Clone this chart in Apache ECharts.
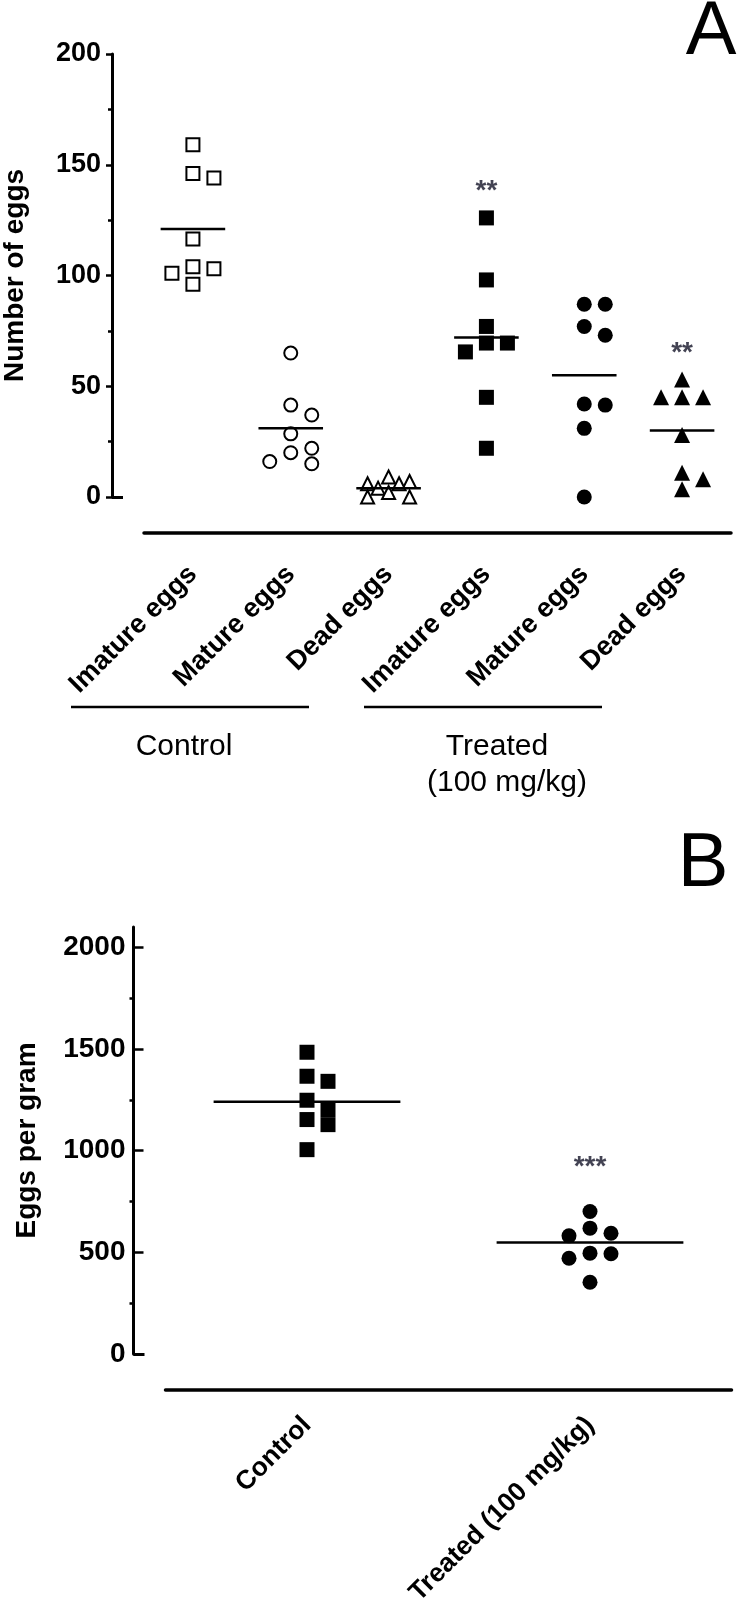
<!DOCTYPE html>
<html>
<head>
<meta charset="utf-8">
<script src="https://cdn.jsdelivr.net/npm/echarts@6/dist/echarts.min.js"></script>
<style>html,body{margin:0;padding:0;background:#fff;}#c{width:738px;height:1600px;}</style>
</head>
<body>
<div id="c"></div>
<script>
// ---- Panel A data ----
const catsA = ['Imature eggs', 'Mature eggs', 'Dead eggs', 'Imature eggs', 'Mature eggs', 'Dead eggs'];
const ctrlImature = [159, 146, 144, 116.5, 104, 103, 101, 96];
const ctrlMature = [65, 41.5, 37, 28.5, 22, 20, 16, 15];
const ctrlDead = [9, 7, 6, 6, 4, 2, 0, 0];
const trtImature = [126, 98, 77, 69.5, 69.5, 65.5, 45, 22];
const trtMature = [87, 87, 77, 73, 42, 41.5, 31, 0];
const trtDead = [53, 45, 45, 45, 28, 11, 8, 3.5];
const meansA = [121, 31, 4, 72, 55, 30];
const sigA = ['', '', '', '**', '', '**'];
const yTicksA = [0, 50, 100, 150, 200];
const yMinorA = [25, 75, 125, 175];
const groupNamesA = ['Control', 'Treated', '(100 mg/kg)'];

// ---- Panel B data ----
const catsB = ['Control', 'Treated (100 mg/kg)'];
const ctrlB = [1484, 1366, 1341, 1248, 1202, 1153, 1128, 1005];
const trtB = [701, 619, 594, 581, 496, 493, 471, 353];
const meansB = [1240, 548];
const sigB = ['', '***'];
const yTicksB = [0, 500, 1000, 1500, 2000];
const yMinorB = [250, 750, 1250, 1750];

// ---- layout ----
const FONT = 'Liberation Sans';
const A = {left: 144, top: 54, width: 587, height: 443, ymax: 200};
const B = {left: 165.5, top: 927, width: 566, height: 427, ymax: 2100};

// simple beeswarm: spread points that would overlap, at most a few columns
function swarm(vals, pxPerUnit, bandPx, markerPx, stepPx) {
  const order = vals.map((v, i) => i).sort((a, b) => vals[b] - vals[a]);
  const cands = [0, 1, -1, 0.5, -0.5];
  const placed = [];
  const off = new Array(vals.length).fill(0);
  for (const i of order) {
    const y = vals[i] * pxPerUnit;
    let best = null, bestD = -1;
    for (const c of cands) {
      const x = c * stepPx;
      let dmin = Infinity, hit = false;
      for (const p of placed) {
        const d = Math.hypot(p.x - x, p.y - y);
        dmin = Math.min(dmin, d);
        if (Math.abs(p.x - x) < markerPx && Math.abs(p.y - y) < markerPx) hit = true;
      }
      if (!hit) { best = x; break; }
      if (dmin > bestD) { bestD = dmin; best = x; }
    }
    placed.push({x: best, y});
    off[i] = best / bandPx;
  }
  return off;
}

const groupsA = [
  {vals: ctrlImature, symbol: 'rect', open: true, size: 13},
  {vals: ctrlMature, symbol: 'circle', open: true, size: 13},
  {vals: ctrlDead, symbol: 'triangle', open: true, size: 13},
  {vals: trtImature, symbol: 'rect', open: false, size: 15},
  {vals: trtMature, symbol: 'circle', open: false, size: 15},
  {vals: trtDead, symbol: 'triangle', open: false, size: 16}
];
const groupsB = [
  {vals: ctrlB, symbol: 'rect', open: false, size: 15},
  {vals: trtB, symbol: 'circle', open: false, size: 15}
];

const series = [];
function addPanel(groups, means, sigs, P, gridIndex, xValIdx, yIdx) {
  const band = P.width / groups.length;
  const ppu = P.height / P.ymax;
  groups.forEach((g, i) => {
    const off = swarm(g.vals, ppu, band, 15, 21);
    series.push({
      type: 'scatter', xAxisIndex: xValIdx, yAxisIndex: yIdx,
      symbol: g.symbol, symbolSize: g.size, z: 3,
      itemStyle: g.open ? {color: '#fff', borderColor: '#000', borderWidth: 2, opacity: 1} : {color: '#000', opacity: 1},
      data: g.vals.map((v, j) => [i + off[j], v])
    });
    series.push({
      type: 'line', xAxisIndex: xValIdx, yAxisIndex: yIdx, z: 4,
      symbol: 'none', lineStyle: {color: '#000', width: 2.5},
      data: [[i - 0.33, means[i]], [i + 0.33, means[i]]]
    });
    if (sigs[i]) {
      series.push({
        type: 'scatter', xAxisIndex: xValIdx, yAxisIndex: yIdx, symbolSize: 1,
        itemStyle: {color: 'rgba(0,0,0,0)'}, z: 5,
        label: {show: true, position: 'top', distance: gridIndex === 0 ? 12 : 30, formatter: sigs[i],
          color: '#141428', fontSize: 28, fontWeight: 'bold', fontFamily: FONT},
        data: [[i, Math.max(...g.vals)]]
      });
    }
  });
}
addPanel(groupsA, meansA, sigA, A, 0, 1, 0);
addPanel(groupsB, meansB, sigB, B, 1, 3, 3);

function yAxes(P, gridIndex, ticks, minor, offset, labelSize, name, nameGap) {
  return [
    {
      type: 'value', gridIndex, position: 'left', offset, min: 0, max: P.ymax,
      name, nameLocation: 'middle', nameGap, nameRotate: 90,
      nameTextStyle: {fontSize: 28, fontWeight: 'bold', color: '#000', fontFamily: FONT},
      axisLine: {show: true, onZero: false, lineStyle: {color: '#000', width: 3}},
      axisTick: {show: true, inside: gridIndex === 1, length: gridIndex === 0 ? 6 : 10, lineStyle: {color: '#000', width: 2.5}, customValues: ticks},
      axisLabel: {show: true, customValues: ticks, formatter: v => String(v), margin: gridIndex === 0 ? 11 : 8,
        fontSize: labelSize, fontWeight: 'bold', color: '#000', fontFamily: FONT},
      splitLine: {show: false}
    },
    {
      type: 'value', gridIndex, position: 'left', offset, min: 0, max: P.ymax,
      axisLine: {show: false, onZero: false},
      axisTick: {show: true, inside: false, length: 4, lineStyle: {color: '#000', width: 2.5}, customValues: minor},
      axisLabel: {show: false}, splitLine: {show: false}
    },
    {
      type: 'value', gridIndex, position: 'left', offset, min: 0, max: P.ymax,
      axisLine: {show: false, onZero: false},
      axisTick: {show: true, inside: true, length: 11, lineStyle: {color: '#000', width: 3}, customValues: [0]},
      axisLabel: {show: false}, splitLine: {show: false}
    }
  ];
}

const option = {
  animation: false,
  backgroundColor: '#fff',
  textStyle: {fontFamily: FONT},
  grid: [
    {left: A.left, top: A.top, width: A.width, height: A.height, containLabel: false, outerBoundsMode: 'none'},
    {left: B.left, top: B.top, width: B.width, height: B.height, containLabel: false, outerBoundsMode: 'none'}
  ],
  xAxis: [
    {
      type: 'category', gridIndex: 0, data: catsA, position: 'bottom', offset: 36, boundaryGap: true,
      axisLine: {onZero: false, lineStyle: {color: '#000', width: 3.5}},
      axisTick: {alignWithLabel: true, length: 10, lineStyle: {color: '#000', width: 2.5}},
      axisLabel: {rotate: 45, interval: 0, margin: 37, fontSize: 27, fontWeight: 'bold', color: '#000', fontFamily: FONT}
    },
    {type: 'value', gridIndex: 0, min: -0.5, max: catsA.length - 0.5, show: false, axisLine: {onZero: false}},
    {
      type: 'category', gridIndex: 1, data: catsB, position: 'bottom', offset: 36, boundaryGap: true,
      axisLine: {onZero: false, lineStyle: {color: '#000', width: 3.5}},
      axisTick: {alignWithLabel: true, length: 10, lineStyle: {color: '#000', width: 2.5}},
      axisLabel: {rotate: 45, interval: 0, margin: 31, fontSize: 26.5, fontWeight: 'bold', color: '#000', fontFamily: FONT}
    },
    {type: 'value', gridIndex: 1, min: -0.5, max: catsB.length - 0.5, show: false, axisLine: {onZero: false}}
  ],
  yAxis: [].concat(
    yAxes(A, 0, yTicksA, yMinorA, 32, 27, 'Number of eggs', 83),
    yAxes(B, 1, yTicksB, yMinorB, 32, 28, 'Eggs per gram', 92)
  ),
  graphic: [
    {type: 'line', shape: {x1: 71, y1: 707, x2: 309, y2: 707}, style: {stroke: '#000', lineWidth: 2.5}},
    {type: 'line', shape: {x1: 364, y1: 707, x2: 602, y2: 707}, style: {stroke: '#000', lineWidth: 2.5}},
    {type: 'text', x: 184, y: 747, style: {text: groupNamesA[0], font: '30px "Liberation Sans"', fill: '#000', textAlign: 'center', textVerticalAlign: 'middle'}},
    {type: 'text', x: 497, y: 747, style: {text: groupNamesA[1], font: '30px "Liberation Sans"', fill: '#000', textAlign: 'center', textVerticalAlign: 'middle'}},
    {type: 'text', x: 507, y: 783, style: {text: groupNamesA[2], font: '30px "Liberation Sans"', fill: '#000', textAlign: 'center', textVerticalAlign: 'middle'}},
    {type: 'text', x: 711, y: 33, style: {text: 'A', font: '76px "Liberation Sans"', fill: '#000', textAlign: 'center', textVerticalAlign: 'middle'}},
    {type: 'text', x: 703, y: 865, style: {text: 'B', font: '76px "Liberation Sans"', fill: '#000', textAlign: 'center', textVerticalAlign: 'middle'}}
  ],
  series
};
const chart = echarts.init(document.getElementById('c'), null, {renderer: 'canvas'});
chart.setOption(option);
</script>
</body>
</html>
